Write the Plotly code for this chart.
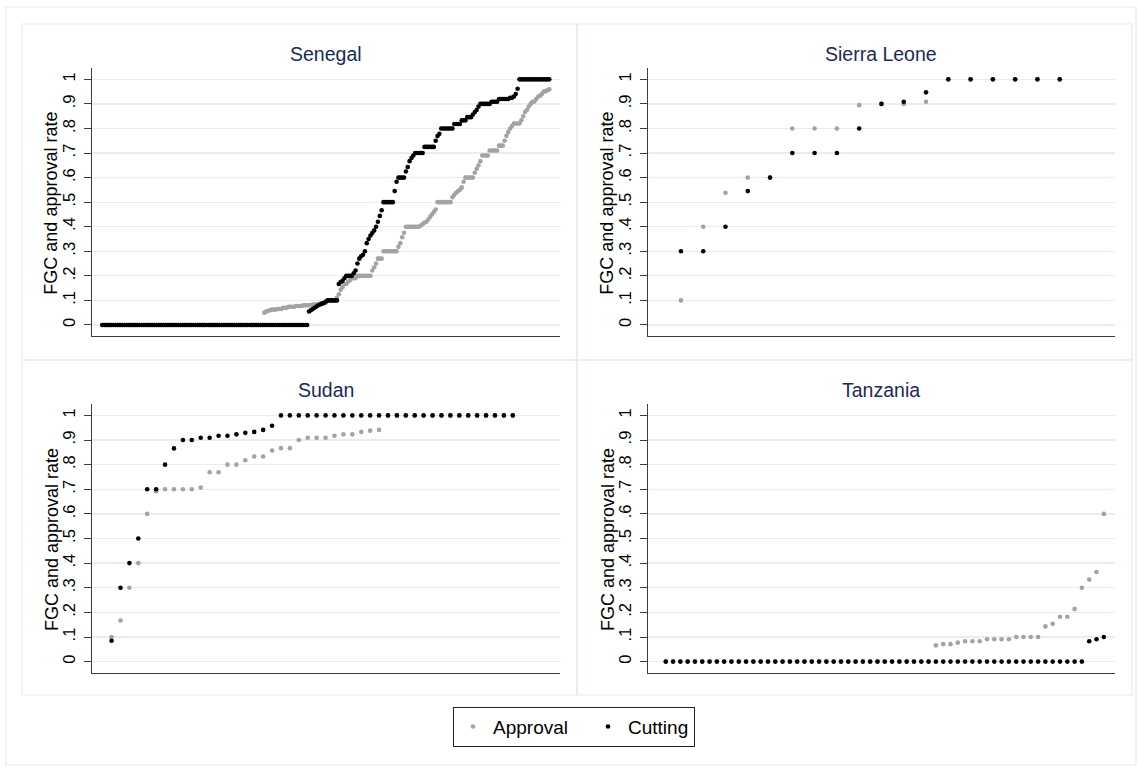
import plotly.graph_objects as go

W, H = 1139, 772

# ---------------- data (sorted values; x = rank within country) ----------------
panels = ["Senegal", "Sierra Leone", "Sudan", "Tanzania"]

# Senegal: run-length pairs (value, number of villages)
sen_approval_runs = [
    (0.0, 87), (0.05, 1), (0.055, 1), (0.058, 1), (0.06, 1), (0.0625, 3), (0.065, 3), (0.07, 3),
    (0.074, 4), (0.077, 4), (0.08, 5), (0.083, 4), (0.087, 3), (0.09, 1), (0.1, 5),
    (0.111, 1), (0.125, 1), (0.143, 1), (0.154, 1), (0.167, 2), (0.176, 1), (0.182, 1), (0.19, 3),
    (0.2, 8), (0.222, 1), (0.235, 1), (0.25, 1), (0.27, 3), (0.3, 8), (0.318, 1), (0.333, 1),
    (0.357, 1), (0.375, 1), (0.4, 8), (0.405, 1), (0.41, 1), (0.417, 1), (0.42, 1), (0.429, 1),
    (0.44, 1), (0.45, 1), (0.46, 1), (0.47, 1), (0.5, 8), (0.52, 1), (0.53, 1), (0.538, 1),
    (0.545, 1), (0.55, 1), (0.56, 1), (0.583, 1), (0.6, 5), (0.62, 1), (0.636, 1), (0.65, 1),
    (0.667, 1), (0.69, 4), (0.71, 5), (0.73, 3), (0.75, 1), (0.77, 1), (0.786, 1), (0.8, 1),
    (0.81, 1), (0.82, 4), (0.833, 1), (0.85, 1), (0.867, 1), (0.875, 1), (0.889, 1), (0.9, 1),
    (0.909, 1), (0.91, 1), (0.92, 1), (0.929, 1), (0.933, 1), (0.94, 1), (0.95, 1), (0.952, 1),
    (0.955, 1), (0.96, 1),
]
sen_cutting_runs = [
    (0.0, 111), (0.055, 1), (0.06, 1), (0.065, 1), (0.07, 1), (0.075, 1), (0.08, 1), (0.083, 1),
    (0.087, 1), (0.09, 1), (0.095, 1), (0.1, 6), (0.167, 1), (0.175, 1), (0.18, 1), (0.19, 1),
    (0.2, 4), (0.21, 1), (0.222, 1), (0.25, 1), (0.27, 1), (0.28, 1), (0.286, 1), (0.3, 1),
    (0.333, 1), (0.35, 1), (0.364, 1), (0.375, 1), (0.385, 1), (0.4, 1), (0.42, 1), (0.444, 1),
    (0.467, 1), (0.5, 6), (0.545, 1), (0.583, 1), (0.6, 4), (0.625, 1), (0.643, 1), (0.667, 1),
    (0.68, 1), (0.69, 1), (0.7, 5), (0.725, 6), (0.75, 1), (0.769, 1), (0.778, 1), (0.8, 7),
    (0.818, 4), (0.833, 3), (0.846, 3), (0.857, 1), (0.867, 1), (0.875, 1), (0.889, 1), (0.9, 6),
    (0.909, 4), (0.92, 6), (0.925, 2), (0.93, 1), (0.94, 1), (0.962, 1), (1.0, 17),
]

sl_approval = [0.1, 0.4, 0.538, 0.6, 0.6, 0.8, 0.8, 0.8, 0.895, 0.9, 0.9, 0.909,
               1.0, 1.0, 1.0, 1.0, 1.0, 1.0]
sl_cutting = [0.3, 0.3, 0.4, 0.545, 0.6, 0.7, 0.7, 0.7, 0.8, 0.9, 0.909, 0.947,
              1.0, 1.0, 1.0, 1.0, 1.0, 1.0]

sudan_approval_runs = [
    (0.1, 1), (0.167, 1), (0.3, 1), (0.4, 1), (0.6, 1), (0.692, 1), (0.7, 4), (0.707, 1),
    (0.769, 2), (0.8, 2), (0.818, 1), (0.833, 2), (0.857, 1), (0.867, 2), (0.9, 1), (0.909, 3),
    (0.917, 1), (0.923, 2), (0.933, 1), (0.938, 1), (0.941, 1), (1.0, 15),
]
sudan_cutting_runs = [
    (0.085, 1), (0.3, 1), (0.4, 1), (0.5, 1), (0.7, 2), (0.8, 1), (0.866, 1), (0.9, 2),
    (0.909, 2), (0.917, 2), (0.923, 1), (0.929, 1), (0.933, 1), (0.941, 1), (0.958, 1), (1.0, 27),
]

tz_approval_runs = [
    (0.0, 37), (0.066, 1), (0.071, 2), (0.077, 1), (0.083, 3), (0.091, 4), (0.1, 4), (0.143, 1),
    (0.154, 1), (0.182, 2), (0.214, 1), (0.3, 1), (0.333, 1), (0.364, 1), (0.6, 1),
]
tz_cutting_runs = [(0.0, 58), (0.083, 1), (0.091, 1), (0.1, 1)]

y_tick_vals = [0, 0.1, 0.2, 0.3, 0.4, 0.5, 0.6, 0.7, 0.8, 0.9, 1]
y_tick_text = ["0", ".1", ".2", ".3", ".4", ".5", ".6", ".7", ".8", ".9", "1"]
y_title = "FGC and approval rate"


def expand(runs):
    out = []
    for v, n in runs:
        out.extend([v] * n)
    return out


data = {
    "Senegal": (expand(sen_approval_runs), expand(sen_cutting_runs)),
    "Sierra Leone": (sl_approval, sl_cutting),
    "Sudan": (expand(sudan_approval_runs), expand(sudan_cutting_runs)),
    "Tanzania": (expand(tz_approval_runs), expand(tz_cutting_runs)),
}

# ---------------- layout geometry (page pixels) ----------------
boxes = {  # plot area: left, right, top, bottom
    "Senegal": (91.5, 559.7, 68.3, 336.0),
    "Sierra Leone": (647.5, 1115.2, 68.3, 336.0),
    "Sudan": (91.5, 559.7, 404.3, 672.7),
    "Tanzania": (647.5, 1115.2, 404.3, 672.7),
}
x_ranges = {
    "Senegal": [-4.8, 246.6],
    "Sierra Leone": [-0.5, 20.49],
    "Sudan": [-1.25, 51.26],
    "Tanzania": [-1.5, 62.56],
}
title_y = {"Senegal": 53.5, "Sierra Leone": 53.5, "Sudan": 390.0, "Tanzania": 390.0}

FONT = "Liberation Sans, Arial, sans-serif"
GRAY = "#a3a3a3"
BLACK = "#000000"
GRID = "#e6eef0"
AXIS = "#3c3c3c"
TITLE_C = "#1c2b52"


def fx(p):
    return p / W


def fy(p):
    return 1 - p / H


fig = go.Figure()
layout = dict(
    width=W, height=H,
    margin=dict(l=0, r=0, t=0, b=0),
    paper_bgcolor="white", plot_bgcolor="white",
    font=dict(family=FONT, color="black"),
    showlegend=True,
    legend=dict(
        orientation="h", x=fx(453), xanchor="left", y=fy(706.7), yanchor="top",
        bordercolor="#222222", borderwidth=1, font=dict(size=19, family=FONT),
        itemsizing="trace", bgcolor="white",
    ),
    shapes=[], annotations=[],
)

for k, name in enumerate(panels):
    idx = "" if k == 0 else str(k + 1)
    l, r, t, b = boxes[name]
    appr, cut = data[name]
    for vals, sname, col in ((appr, "Approval", GRAY), (cut, "Cutting", BLACK)):
        tr = dict(
            x=list(range(1, len(vals) + 1)), y=vals, mode="markers",
            marker=dict(color=col, size=4.6, line=dict(width=0)),
            name=sname, legendgroup=sname, showlegend=(k == 0),
            xaxis="x" + idx, yaxis="y" + idx, hoverinfo="skip",
        )
        if k == 0 and sname == "Approval":
            tr["legendwidth"] = 90
        fig.add_trace(go.Scatter(**tr))
    layout["xaxis" + idx] = dict(
        domain=[fx(l), fx(r)], range=x_ranges[name], anchor="y" + idx,
        showgrid=False, zeroline=False, showticklabels=False, ticks="",
        showline=True, linecolor=AXIS, linewidth=1,
    )
    layout["yaxis" + idx] = dict(
        domain=[fy(b), fy(t)], range=[-0.045, 1.045], anchor="x" + idx,
        tickvals=y_tick_vals, ticktext=y_tick_text, tickangle=-90,
        ticks="outside", ticklen=7, tickcolor=AXIS, tickwidth=1,
        ticklabelstandoff=2,
        tickfont=dict(size=16.5, family=FONT, color="black"),
        showgrid=True, gridcolor=GRID, gridwidth=1.3, zeroline=False,
        showline=True, linecolor=AXIS, linewidth=1,
    )
    layout["annotations"].append(dict(
        text=name, xref="paper", yref="paper", x=fx((l + r) / 2), y=fy(title_y[name]),
        xanchor="center", yanchor="middle", showarrow=False,
        font=dict(size=19.5, family=FONT, color=TITLE_C),
    ))
    layout["annotations"].append(dict(
        text=y_title, xref="paper", yref="paper", x=fx(l - 40), y=fy((t + b) / 2 + 1),
        xanchor="center", yanchor="middle", showarrow=False, textangle=-90,
        font=dict(size=18, family=FONT, color="black"),
    ))

# panel frames and outer frame
frame_c = "#e3ecee"
panel_rects = [(22, 577, 24, 360), (577, 1132, 24, 360), (22, 577, 360, 695), (577, 1132, 360, 695)]
for (x0, x1, y0, y1) in panel_rects:
    layout["shapes"].append(dict(type="rect", xref="paper", yref="paper",
                                 x0=fx(x0), x1=fx(x1), y0=fy(y1), y1=fy(y0),
                                 line=dict(color=frame_c, width=1.2), layer="below"))
layout["shapes"].append(dict(type="rect", xref="paper", yref="paper",
                             x0=fx(6), x1=fx(1136), y0=fy(765), y1=fy(7),
                             line=dict(color=frame_c, width=1.2), layer="below"))

fig.update_layout(**layout)
fig.write_html(
    "out.html",
    config={"displayModeBar": False, "staticPlot": True},
    post_script="document.body.style.margin='0';document.body.style.overflow='hidden';",
)
